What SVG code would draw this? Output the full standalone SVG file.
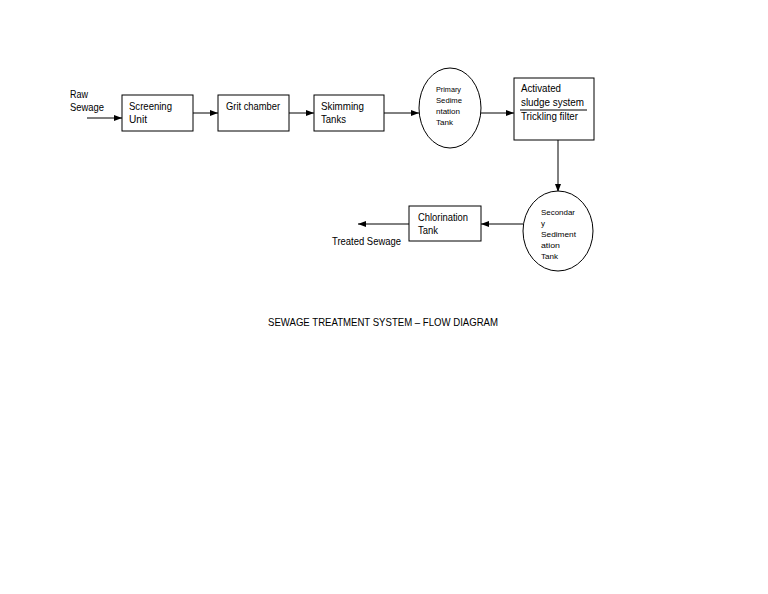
<svg xmlns="http://www.w3.org/2000/svg" width="768" height="594" viewBox="0 0 768 594">
<style>
.n{fill:#fff;stroke:#000;stroke-width:1}
.t{font-family:"Liberation Sans",Arial,sans-serif;font-size:11.5px;fill:#000}
.s{font-family:"Liberation Sans",Arial,sans-serif;font-size:8px;fill:#000}
.c{stroke:#000;stroke-width:1;fill:none;marker-end:url(#a)}
</style>
<defs>
<marker id="a" markerWidth="8" markerHeight="6" refX="8" refY="3" orient="auto" markerUnits="userSpaceOnUse">
<path d="M0,0 L8,3 L0,6 z" fill="#000"/>
</marker>
</defs>
<rect width="768" height="594" fill="#fff"/>
<g id="connectors">
<line class="c" x1="87" y1="118" x2="122" y2="118"/>
<line class="c" x1="193" y1="113" x2="218" y2="113"/>
<line class="c" x1="289" y1="113" x2="314" y2="113"/>
<line class="c" x1="384" y1="113" x2="419" y2="113"/>
<line class="c" x1="481" y1="113" x2="514" y2="113"/>
<line class="c" x1="558" y1="140" x2="558" y2="192"/>
<line class="c" x1="523" y1="224" x2="481" y2="224"/>
<line class="c" x1="409" y1="224" x2="358" y2="224"/>
</g>
<g id="raw"><text class="t" x="70" y="98" textLength="18" lengthAdjust="spacingAndGlyphs">Raw</text><text class="t" x="70" y="111" textLength="34" lengthAdjust="spacingAndGlyphs">Sewage</text></g>
<g id="screening"><rect class="n" x="122" y="95" width="71" height="36"/><text class="t" x="129" y="110" textLength="43" lengthAdjust="spacingAndGlyphs">Screening</text><text class="t" x="129" y="123" textLength="18" lengthAdjust="spacingAndGlyphs">Unit</text></g>
<g id="grit"><rect class="n" x="218" y="95" width="71" height="36"/><text class="t" x="226" y="110" textLength="54" lengthAdjust="spacingAndGlyphs">Grit chamber</text></g>
<g id="skimming"><rect class="n" x="314" y="95" width="70" height="36"/><text class="t" x="321" y="110" textLength="43" lengthAdjust="spacingAndGlyphs">Skimming</text><text class="t" x="321" y="123" textLength="25" lengthAdjust="spacingAndGlyphs">Tanks</text></g>
<g id="primary"><ellipse class="n" cx="450" cy="108" rx="31" ry="40"/><text class="s" x="436" y="92" textLength="25" lengthAdjust="spacingAndGlyphs">Primary</text><text class="s" x="436" y="103" textLength="26" lengthAdjust="spacingAndGlyphs">Sedime</text><text class="s" x="436" y="114" textLength="24" lengthAdjust="spacingAndGlyphs">ntation</text><text class="s" x="436" y="125" textLength="17" lengthAdjust="spacingAndGlyphs">Tank</text></g>
<g id="activated"><rect class="n" x="514" y="78" width="80" height="62"/><text class="t" x="521" y="92" textLength="40" lengthAdjust="spacingAndGlyphs">Activated</text><text class="t" x="521" y="106" textLength="63" lengthAdjust="spacingAndGlyphs">sludge system</text><line x1="520" y1="110" x2="587" y2="110" stroke="#000" stroke-width="1"/><text class="t" x="521" y="120" textLength="57" lengthAdjust="spacingAndGlyphs">Trickling filter</text></g>
<g id="secondary"><ellipse class="n" cx="558" cy="231" rx="35" ry="40"/><text class="s" x="541" y="215" textLength="34" lengthAdjust="spacingAndGlyphs">Secondar</text><text class="s" x="541" y="226">y</text><text class="s" x="541" y="237" textLength="35" lengthAdjust="spacingAndGlyphs">Sediment</text><text class="s" x="541" y="248" textLength="19" lengthAdjust="spacingAndGlyphs">ation</text><text class="s" x="541" y="259" textLength="17" lengthAdjust="spacingAndGlyphs">Tank</text></g>
<g id="chlorination"><rect class="n" x="409" y="206" width="72" height="35"/><text class="t" x="418" y="221" textLength="50" lengthAdjust="spacingAndGlyphs">Chlorination</text><text class="t" x="418" y="234" textLength="20" lengthAdjust="spacingAndGlyphs">Tank</text></g>
<g id="treated"><text class="t" x="332" y="245" textLength="69" lengthAdjust="spacingAndGlyphs">Treated Sewage</text></g>
<text class="t" x="268" y="326" font-size="11" textLength="230" lengthAdjust="spacingAndGlyphs">SEWAGE TREATMENT SYSTEM – FLOW DIAGRAM</text>
</svg>
